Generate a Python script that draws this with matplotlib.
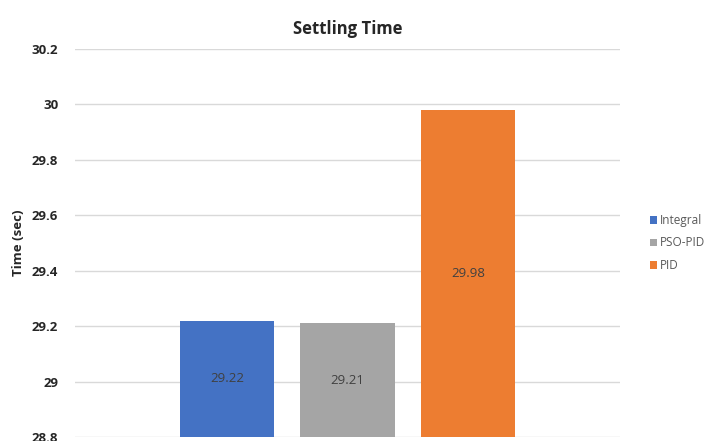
import matplotlib
matplotlib.use("Agg")
import matplotlib.pyplot as plt

series = ["Integral", "PSO-PID", "PID"]
values = [29.22, 29.21, 29.98]
colors = ["#4472c4", "#a5a5a5", "#ed7d31"]
yticks = [28.8, 29.0, 29.2, 29.4, 29.6, 29.8, 30.0, 30.2]
ytick_labels = ["28.8", "29", "29.2", "29.4", "29.6", "29.8", "30", "30.2"]

plt.rcParams["font.family"] = ["Open Sans", "DejaVu Sans"]

fig = plt.figure(figsize=(7.07, 4.41), dpi=100)
ax = fig.add_axes([0.106, 0.009, 0.771, 0.88])

ymin, ymax = 28.8, 30.2
for i, (name, v, c) in enumerate(zip(series, values, colors)):
    ax.bar(i, v - ymin, bottom=ymin, width=0.78, color=c, label=name, zorder=2)
    ax.text(i, (ymin + v) / 2, f"{v:.2f}", ha="center", va="center",
            fontsize=9.5, color="#404040", zorder=3)

ax.set_ylim(ymin, ymax)
ax.set_xlim(-1.26, 3.26)
ax.set_yticks(yticks)
ax.set_yticklabels(ytick_labels, fontsize=9.5, fontweight="bold", color="#262626")
ax.set_xticks([])
ax.tick_params(axis="y", length=0, pad=12)
ax.grid(axis="y", color="#d9d9d9", linewidth=1, zorder=0)
for s in ax.spines.values():
    s.set_visible(False)

ax.set_ylabel("Time (sec)", fontsize=9.5, fontweight="bold", color="#262626", labelpad=5)
ax.set_title("Settling Time", fontsize=12, fontweight="bold", color="#262626", pad=11)

ax.legend(loc="center left", bbox_to_anchor=(1.035, 0.5), frameon=False,
          fontsize=8.5, handlelength=0.6, handleheight=0.6, handletextpad=0.3,
          labelspacing=0.8, labelcolor="#595959")

fig.savefig("out.png", dpi=100)
